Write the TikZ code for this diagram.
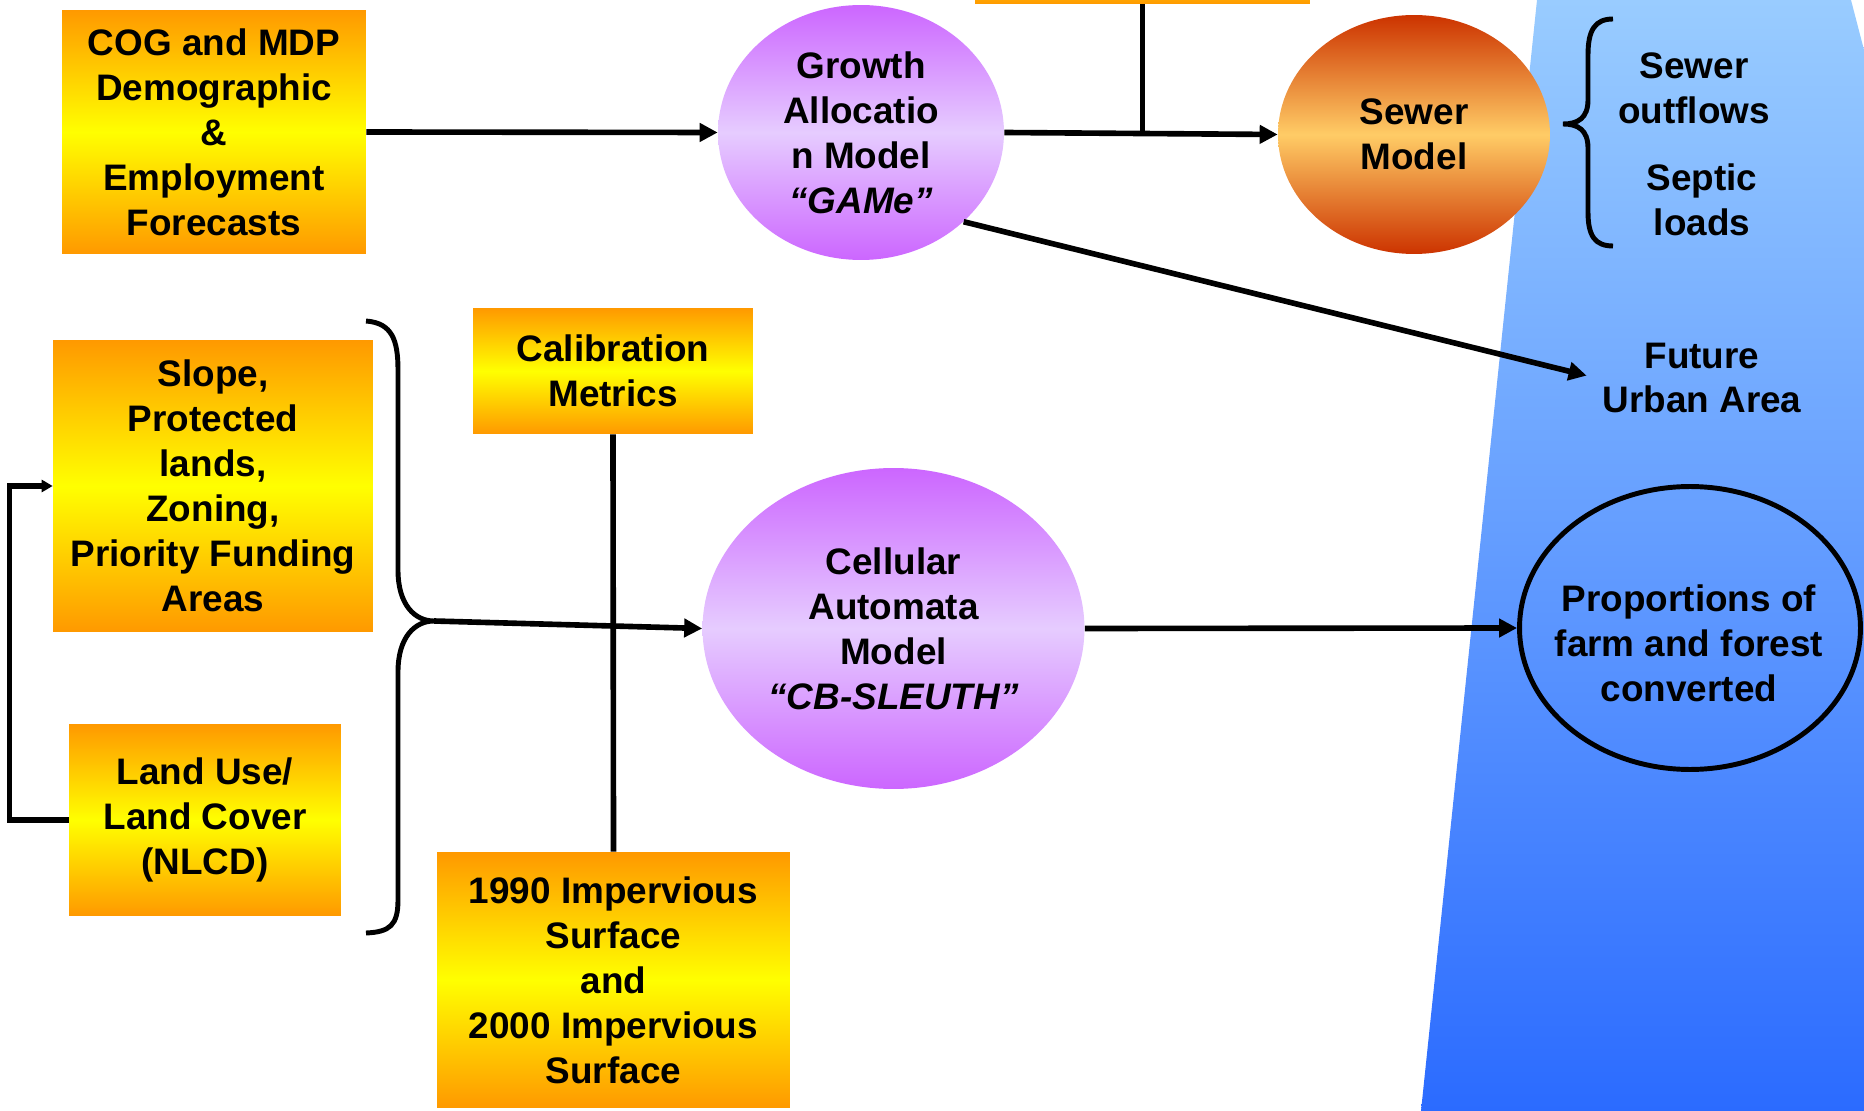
\documentclass[tikz,border=0pt]{standalone}
\usepackage{fontspec}
\setmainfont{Liberation Sans}
\usepackage{tikz}
\usepackage{xcolor}
\usetikzlibrary{shapes.geometric, arrows.meta}

\definecolor{boxorange}{RGB}{255,153,0}
\definecolor{boxyellow}{RGB}{255,255,0}
\definecolor{lilac}{RGB}{204,102,255}
\definecolor{palelilac}{RGB}{230,204,255}
\definecolor{rust}{RGB}{204,51,0}
\definecolor{sand}{RGB}{255,204,102}
\definecolor{skytop}{RGB}{153,204,255}
\definecolor{skybot}{RGB}{43,107,255}

\begin{document}
\begin{tikzpicture}[x=0.02cm, y=-0.02cm,
    every node/.style={font=\fontsize{21pt}{25.6pt}\selectfont\bfseries, align=center},
    inbox/.style={rectangle, inner sep=0pt, top color=boxorange, bottom color=boxorange, middle color=boxyellow},
    model/.style={ellipse, inner sep=0pt, top color=lilac, bottom color=lilac, middle color=palelilac},
    flow/.style={line width=3.2pt, -{Triangle[length=0.36cm, width=0.36cm]}},
    brace/.style={line width=2.8pt}]
    \useasboundingbox (0,0) rectangle (1864,1111);
    \shade[top color=skytop, bottom color=skybot] (1537,0) -- (1851,0) -- (1864,50) -- (1864,1111) -- (1421,1111) -- cycle;

    % inputs
    \node[inbox, minimum width=6.08cm, minimum height=4.88cm] (cog) at (214,132) {COG and MDP\\Demographic\\\&\\Employment\\Forecasts};
    \node[inbox, minimum width=6.4cm, minimum height=5.84cm] (slope) at (213,486) {Slope,\\Protected\\lands,\\Zoning,\\Priority Funding\\Areas};
    \node[inbox, minimum width=5.44cm, minimum height=3.84cm] (land) at (205,820) {Land Use/\\Land Cover\\(NLCD)};
    \node[inbox, minimum width=5.6cm, minimum height=2.52cm] (calib) at (613,371) {Calibration\\Metrics};
    \node[inbox, minimum width=7.06cm, minimum height=5.12cm] (imperv) at (613.5,980) {1990 Impervious\\Surface\\and\\2000 Impervious\\Surface};
    \node[inbox, minimum width=6.7cm, minimum height=1.76cm] (upper) at (1142.5,-40) {};

    % models
    \node[model, minimum width=5.72cm, minimum height=5.1cm] (game) at (861,132.5) {Growth\\Allocatio\\n Model\\\textit{“GAMe”}};
    \node[ellipse, inner sep=0pt, top color=rust, bottom color=rust, middle color=sand, minimum width=5.44cm, minimum height=4.78cm] (sewer) at (1414,134.5) {Sewer\\Model};
    \node[model, minimum width=7.64cm, minimum height=6.42cm] (ca) at (893.5,628.5) {Cellular\\Automata\\Model\\\textit{“CB-SLEUTH”}};

    % outputs
    \node[ellipse, draw, line width=2.8pt, minimum width=6.82cm, minimum height=5.66cm] (prop) at (1690,628) {};
    \node (proptxt) at (1689,643) {Proportions of\\farm and forest\\converted};
    \node (future) at (1702,378) {Future\\Urban Area};
    \node (sewout) at (1694,88) {Sewer\\outflows};
    \node (septic) at (1702,200) {Septic\\loads};

    \draw[flow] (cog.east) -- (game.west);
    \draw[flow] (game.east) -- (sewer.west);
    \draw[line width=3.2pt] (upper.south) -- (upper.south |- game.east);
    \draw[flow, shorten >=0.2cm] (game.-41) -- (future.west);
    \draw[flow] (ca.east) -- (prop.west);
    \draw[line width=3.2pt] (calib.south) -- (imperv.north);
    \draw[brace] (366,321) .. controls (392,323) and (398,340) .. (398,370) -- (398,570)
        .. controls (398,605) and (415,621) .. (434,621) coordinate (tip)
        .. controls (415,621) and (398,637) .. (398,672) -- (398,900)
        .. controls (398,925) and (390,932) .. (366,933);
    \draw[flow] (tip) -- (ca.west);
    \draw[line width=3.2pt, -{Triangle[length=0.22cm, width=0.24cm]}] (land.west) -- ++(-59,0) |- (slope.west);
    \draw[brace] (1613,19) .. controls (1595,19) and (1588,30) .. (1588,55) -- (1588,100)
        .. controls (1588,118) and (1578,124) .. (1563,124)
        .. controls (1578,124) and (1588,130) .. (1588,148) -- (1588,212)
        .. controls (1588,236) and (1595,246) .. (1613,246);
\end{tikzpicture}
\end{document}
